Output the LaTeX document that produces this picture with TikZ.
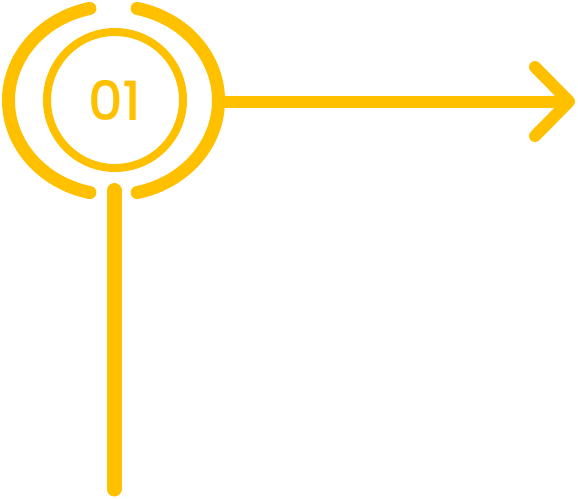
\documentclass[tikz,border=0pt]{standalone}
\usepackage{fontspec}
\newfontfamily\popfont{Poppins Medium}
\definecolor{gold}{HTML}{FFC000}
\begin{document}
\begin{tikzpicture}[x=1pt,y=-1pt,
  thickline/.style={draw=gold,line width=13pt,line cap=round,line join=round},
  arrowline/.style={draw=gold,line width=12pt,line cap=round,line join=round},
  ring/.style={draw=gold,line width=8pt}]
\useasboundingbox (0,0) rectangle (578,498);
\coordinate (c) at (113.5,100.5);
\node[circle,ring,minimum size=136pt,inner sep=0pt,text=gold,font=\popfont\fontsize{54}{54}\selectfont] (num) at (115,100) {01};
\draw[thickline] (c) ++(-103:105 and 94.5) arc[start angle=-103,end angle=-257,x radius=105,y radius=94.5];
\draw[thickline] (c) ++(-77:105 and 94.5) arc[start angle=-77,end angle=77,x radius=105,y radius=94.5];
\coordinate (vtop) at (114,190.5);
\coordinate (vbot) at (114,489);
\draw[thickline,line width=15pt] (vtop) -- (vbot);
\coordinate (hstart) at (215,101.5);
\coordinate (tip) at (569,101.5);
\coordinate (aup) at (535,67);
\coordinate (adown) at (535,136);
\draw[arrowline,line cap=butt] (hstart) -- (tip);
\draw[arrowline] (aup) -- (tip) -- (adown);
\end{tikzpicture}
\end{document}
